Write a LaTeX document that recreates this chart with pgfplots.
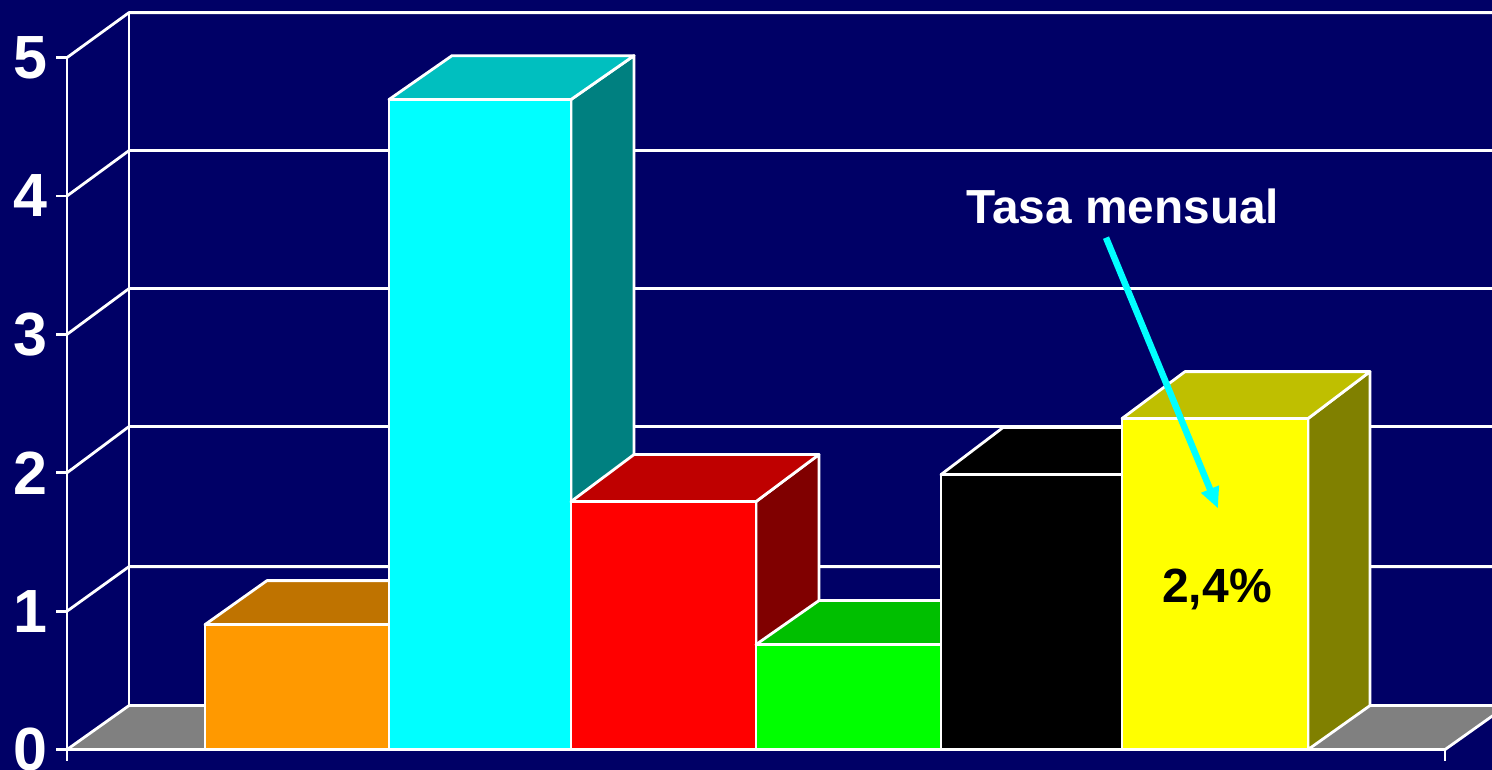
\documentclass[border=0pt]{standalone}
\usepackage{fontspec}
\setmainfont{Liberation Sans}
\usepackage{pgfplots}
\pgfplotsset{compat=1.18}
\usetikzlibrary{arrows.meta}
\definecolor{bgc}{HTML}{000066}
\definecolor{floorc}{HTML}{808080}
\definecolor{orF}{HTML}{FF9900}\definecolor{orT}{HTML}{BF7300}\definecolor{orS}{HTML}{804D00}
\definecolor{cyF}{HTML}{00FFFF}\definecolor{cyT}{HTML}{00BFBF}\definecolor{cyS}{HTML}{008080}
\definecolor{reF}{HTML}{FF0000}\definecolor{reT}{HTML}{BF0000}\definecolor{reS}{HTML}{800000}
\definecolor{grF}{HTML}{00FF00}\definecolor{grT}{HTML}{00BF00}\definecolor{grS}{HTML}{008000}
\definecolor{yeF}{HTML}{FFFF00}\definecolor{yeT}{HTML}{BFBF00}\definecolor{yeS}{HTML}{808000}
\begin{document}
\begin{tikzpicture}[x=1pt,y=1pt]
\path[use as bounding box] (0,0) rectangle (1492,770);
\clip (0,0) rectangle (1492,770);
\fill[bgc] (0,0) rectangle (1492,770);
\begin{axis}[
  at={(67pt,9.4pt)}, anchor=south west,
  scale only axis, width=1425pt, height=703pt,
  xmin=67, xmax=1492, ymin=-0.0795, ymax=5,
  clip=false,
  axis x line=none, axis y line=left,
  axis line style={-, white, line width=2.8pt},
  ytick={0,1,2,3,4,5},
  tick align=outside,
  major tick length=11pt,
  ytick style={white, line width=2.8pt},
  yticklabel style={font=\fontsize{61}{61}\selectfont\bfseries, text=white, inner sep=0pt, xshift=-8.5pt},
  /pgf/number format/assume math mode=true,
  every axis plot/.append style={line width=2.8pt, line join=round, draw=white},
]
% back wall and left wall
\addplot[no marks] coordinates {(67,1) (129,1.322) (1492,1.322)};
\addplot[no marks] coordinates {(67,2) (129,2.334) (1492,2.334)};
\addplot[no marks] coordinates {(67,3) (129,3.331) (1492,3.331)};
\addplot[no marks] coordinates {(67,4) (129,4.328) (1492,4.328)};
\addplot[no marks] coordinates {(67,5) (129,5.325) (1492,5.325)};
\addplot[no marks] coordinates {(129,0.318) (129,5.325)};
% floor
\addplot[no marks, fill=floorc] coordinates {(67,0) (129,0.318) (1507,0.318) (1445,0)} --cycle;
\addplot[no marks] coordinates {(1445,0) (1445,-0.0795)};
% orange
\addplot[no marks, fill=orS] coordinates {(389,0) (451,0.318) (451,1.221) (389,0.903)} --cycle;
\addplot[no marks, fill=orT] coordinates {(205,0.903) (267,1.221) (451,1.221) (389,0.903)} --cycle;
\addplot[no marks, fill=orF] coordinates {(205,0) (205,0.903) (389,0.903) (389,0)} --cycle;
% cyan
\addplot[no marks, fill=cyS] coordinates {(571,0) (634,0.318) (634,5.014) (571,4.697)} --cycle;
\addplot[no marks, fill=cyT] coordinates {(389,4.697) (452,5.014) (634,5.014) (571,4.697)} --cycle;
\addplot[no marks, fill=cyF] coordinates {(389,0) (389,4.697) (571,4.697) (571,0)} --cycle;
% red
\addplot[no marks, fill=reS] coordinates {(756,0) (819,0.318) (819,2.132) (756,1.792)} --cycle;
\addplot[no marks, fill=reT] coordinates {(571,1.792) (634,2.132) (819,2.132) (756,1.792)} --cycle;
\addplot[no marks, fill=reF] coordinates {(571,0) (571,1.792) (756,1.792) (756,0)} --cycle;
% green
\addplot[no marks, fill=grS] coordinates {(941,0) (1003,0.318) (1003,1.077) (941,0.759)} --cycle;
\addplot[no marks, fill=grT] coordinates {(756,0.759) (819,1.077) (1003,1.077) (941,0.759)} --cycle;
\addplot[no marks, fill=grF] coordinates {(756,0) (756,0.759) (941,0.759) (941,0)} --cycle;
% black
\addplot[no marks, fill=black] coordinates {(941,1.987) (1003,2.327) (1185,2.327) (1122,1.987)} --cycle;
\addplot[no marks, fill=black] coordinates {(941,0) (941,1.987) (1122,1.987) (1122,0)} --cycle;
% yellow
\addplot[no marks, fill=yeS] coordinates {(1308,0) (1370,0.318) (1370,2.731) (1308,2.392)} --cycle;
\addplot[no marks, fill=yeT] coordinates {(1122,2.392) (1185,2.731) (1370,2.731) (1308,2.392)} --cycle;
\addplot[no marks, fill=yeF] coordinates {(1122,0) (1122,2.392) (1308,2.392) (1308,0)} --cycle;
% arrow
\addplot[no marks, draw=cyF, line width=6.5pt, line join=miter, -{Triangle[length=21pt,width=18pt]}] coordinates {(1106,3.699) (1218,1.742)};
\node[text=white, font=\fontsize{47.8}{50}\selectfont\bfseries, inner sep=0pt] at (axis cs:1123,3.923) {Tasa mensual};
\node[text=black, font=\fontsize{48}{50}\selectfont\bfseries, inner sep=0pt] at (axis cs:1217,1.157) {2,4\%};
\end{axis}
\end{tikzpicture}
\end{document}
